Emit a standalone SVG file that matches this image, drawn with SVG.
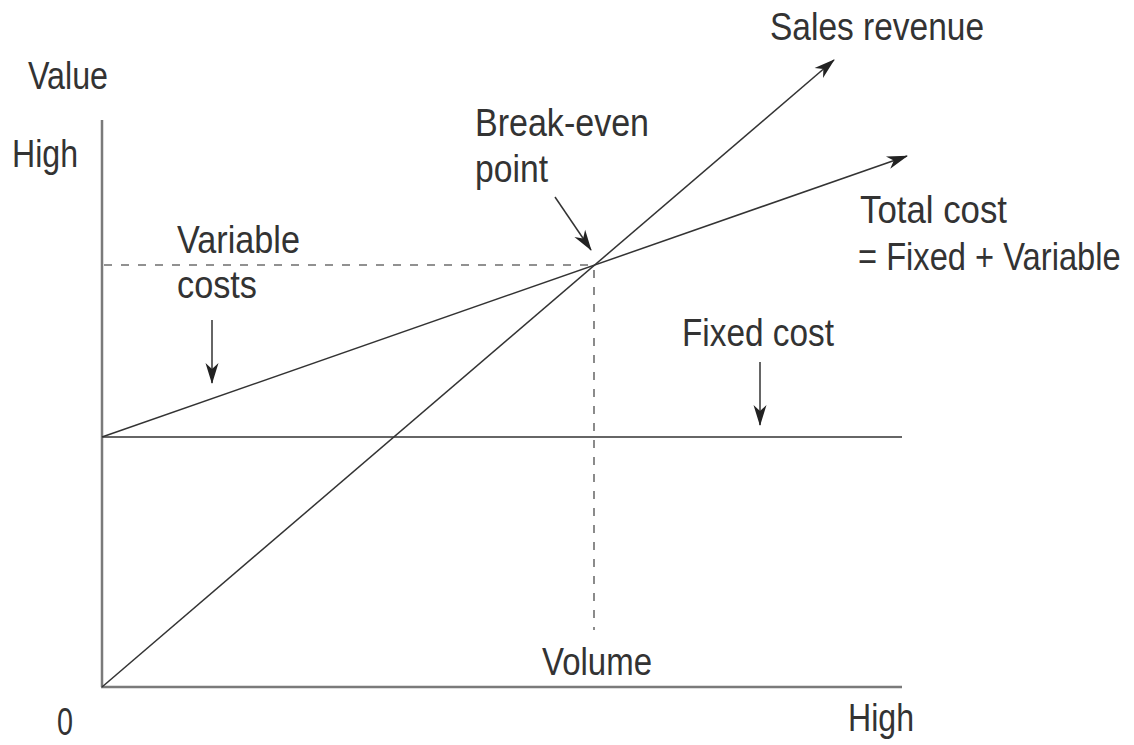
<svg xmlns="http://www.w3.org/2000/svg" width="1134" height="745" viewBox="0 0 1134 745">
  <style>
    .lbl { font-family: "Liberation Sans", Arial, sans-serif; font-size: 38px; fill: #333333; }
    .axis { stroke: #7a7a7a; stroke-width: 2.5; fill: none; }
    .dash { stroke: #6e6e6e; stroke-width: 1.6; stroke-dasharray: 8 9; fill: none; }
    .ptr { stroke: #333333; stroke-width: 1.5; fill: none; marker-end: url(#ah); }
  </style>
  <defs>
    <marker id="ah" viewBox="-21 -7 23 14" refX="0" refY="0" markerWidth="23" markerHeight="14" markerUnits="userSpaceOnUse" orient="auto">
      <path d="M1,0 L-20,-6.5 L-14,0 L-20,6.5 Z" fill="#222222"/>
    </marker>
  </defs>
  <rect width="1134" height="745" fill="#ffffff"/>

  <g id="connectors">
    <line class="axis" x1="102" y1="120" x2="102" y2="687"/>
    <line class="axis" x1="101" y1="687" x2="902" y2="687"/>
    <line class="axis" x1="102" y1="437" x2="902" y2="437" style="stroke:#666666;stroke-width:2"/>
    <line class="dash" x1="104" y1="265" x2="590" y2="265"/>
    <line class="dash" x1="594" y1="270" x2="594" y2="630"/>
    <line class="ptr" x1="102" y1="687" x2="834" y2="60"/>
    <line class="ptr" x1="102" y1="437" x2="907" y2="156"/>
    <line class="ptr" x1="212" y1="320" x2="212" y2="383"/>
    <line class="ptr" x1="760" y1="362" x2="760" y2="425"/>
    <line class="ptr" x1="555" y1="197" x2="591" y2="250"/>
  </g>

  <g id="value-label"><text class="lbl" x="28" y="89" textLength="80" lengthAdjust="spacingAndGlyphs">Value</text></g>
  <g id="high-y-label"><text class="lbl" x="12" y="167" textLength="66" lengthAdjust="spacingAndGlyphs">High</text></g>
  <g id="variable-costs-label">
    <text class="lbl" x="177" y="253" textLength="123" lengthAdjust="spacingAndGlyphs">Variable</text>
    <text class="lbl" x="177" y="298" textLength="80" lengthAdjust="spacingAndGlyphs">costs</text>
  </g>
  <g id="break-even-label">
    <text class="lbl" x="475" y="136" textLength="174" lengthAdjust="spacingAndGlyphs">Break-even</text>
    <text class="lbl" x="475" y="182" textLength="73" lengthAdjust="spacingAndGlyphs">point</text>
  </g>
  <g id="sales-revenue-label"><text class="lbl" x="770" y="40" textLength="214" lengthAdjust="spacingAndGlyphs">Sales revenue</text></g>
  <g id="total-cost-label">
    <text class="lbl" x="860" y="223" textLength="147" lengthAdjust="spacingAndGlyphs">Total cost</text>
    <text class="lbl" transform="translate(858,270) scale(0.86,1)" x="0" y="0">= Fixed + Variable</text>
  </g>
  <g id="fixed-cost-label"><text class="lbl" x="682" y="346" textLength="152" lengthAdjust="spacingAndGlyphs">Fixed cost</text></g>
  <g id="volume-label"><text class="lbl" x="542" y="675" textLength="110" lengthAdjust="spacingAndGlyphs">Volume</text></g>
  <g id="zero-label"><text class="lbl" x="57" y="735" textLength="16" lengthAdjust="spacingAndGlyphs">0</text></g>
  <g id="high-x-label"><text class="lbl" x="848" y="731" textLength="66" lengthAdjust="spacingAndGlyphs">High</text></g>
</svg>
